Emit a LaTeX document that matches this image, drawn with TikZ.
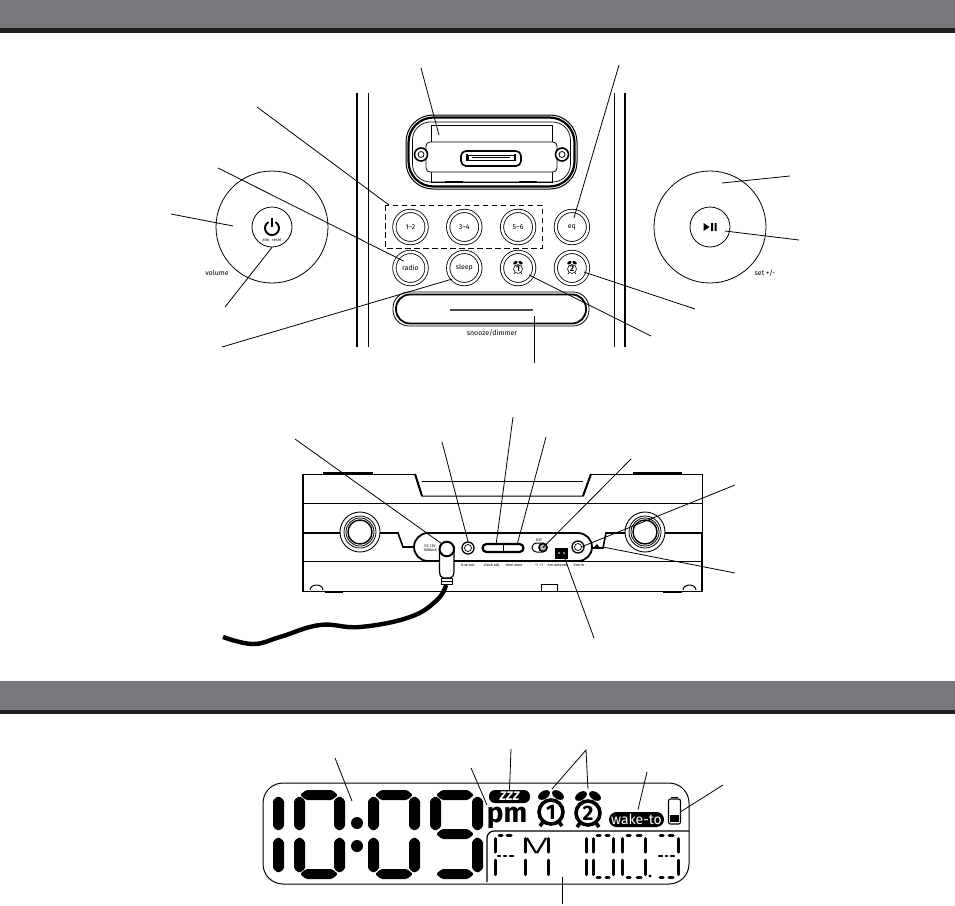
\documentclass[tikz,border=0pt]{standalone}
\usepackage{fontspec}
\setmainfont{Fira Sans}
\usetikzlibrary{positioning}
\definecolor{barfill}{HTML}{77787B}
\definecolor{bardark}{HTML}{231F20}
\tikzstyle{btn} = [circle, draw=black, line width=0.8pt, double, double distance=2.5pt, minimum size=32.2pt, inner sep=0pt, font=\fontsize{7}{7}\selectfont]
\tikzstyle{dial} = [circle, draw=black, line width=0.8pt, minimum size=112pt, inner sep=0pt]
\tikzstyle{hub} = [circle, draw=black, line width=0.8pt, minimum size=40pt, inner sep=0pt]
\tikzstyle{caption} = [inner sep=0pt, font=\fontsize{7}{7}\selectfont]
\tikzstyle{tinytext} = [inner sep=0pt, font=\fontsize{3.8}{4}\selectfont]
\tikzstyle{leader} = [line width=0.8pt]
\tikzstyle{body} = [line width=1pt]
\tikzstyle{jack} = [circle, draw=black, line width=1.3pt, minimum size=12pt, inner sep=0pt]
\tikzstyle{pill} = [fill=black, text=white, rounded corners=6pt, inner sep=0pt]
\tikzstyle{seg} = [line width=3pt, line cap=round]
% Segments of the clock digits
\newcommand{\bigv}[3]{\fill[rounded corners=1.5pt] (#1+5.5,#2) -- (#1+11,#2+4) -- (#1+11,#3-4) -- (#1+5.5,#3) -- (#1,#3-4) -- (#1,#2+4) -- cycle;}
\newcommand{\bigh}[3]{\fill[rounded corners=1.5pt] (#1,#3) -- (#1+6,#3-5) -- (#2-6,#3-5) -- (#2,#3) -- (#2-6,#3+5) -- (#1+6,#3+5) -- cycle;}
% Alarm bell with its number
\newcommand{\alarmicon}[6]{
    \begin{scope}[shift={(#1,#2)},scale=#3]
        \fill[rotate around={32:(-7,-17)}] (-7,-17) ellipse [x radius=6.5, y radius=4];
        \fill[rotate around={-32:(7,-17)}] (7,-17) ellipse [x radius=6.5, y radius=4];
        \draw[line width=#4] (-8,10) -- (-11,14) (8,10) -- (11,14);
        \draw[line width=#4, fill=white] (0,0) circle (12);
        \node[inner sep=0pt, font=\fontsize{#5}{#5}\bfseries\selectfont] at (0,0) {#6};
    \end{scope}}
\begin{document}
\begin{tikzpicture}[x=1pt, y=-1pt]
    \useasboundingbox (0,0) rectangle (955,905);

    % Draw Header Bars
    \fill[barfill] (0,0) rectangle (955,28);
    \fill[bardark] (0,28) rectangle (955,33);
    \fill[barfill] (0,681) rectangle (955,710);
    \fill[bardark] (0,710) rectangle (955,714);

    % Draw Cabinet Lines
    \draw[line width=1.4pt] (357,93) -- (357,347);
    \draw[leader] (368,93) -- (368,347);
    \draw[leader] (614,93) -- (614,347);
    \draw[line width=1.8pt] (625,93) -- (625,347);

    % Draw Dock
    \node(dock) [rectangle, draw=black, line width=1pt, rounded corners=27pt, minimum width=171pt, minimum height=74pt] at (491.5,152) {};
    \node(dockrim) [rectangle, draw=black, line width=2.2pt, rounded corners=25pt, minimum width=166pt, minimum height=69pt] at (491.5,152) {};
    \node(dockin) [rectangle, draw=black, line width=0.7pt, rounded corners=18pt, minimum width=158pt, minimum height=60pt] at (491.5,152) {};
    \draw[leader] (431,125) rectangle (552,182);
    \node(tray) [rectangle, draw=black, fill=white, line width=0.8pt, rounded corners=4pt, minimum width=131pt, minimum height=30pt] at (491.5,157) {};
    \draw[line width=2pt] (445,181.5) -- (463,181.5) (519,181.5) -- (537,181.5);
    \node(plug) [rectangle, draw=black, line width=1.6pt, rounded corners=5pt, minimum width=60pt, minimum height=15pt] at (491,158.5) {};
    \draw[line width=0.6pt] (468,155) rectangle (515,160) (472,157) -- (510,157);
    \draw[line width=1.4pt] (467,154) -- (467,161) (515,154) -- (515,161);
    \node(screwl) [circle, draw=black, fill=white, line width=1.6pt, minimum size=13pt, inner sep=0pt] at (421,154.5) {};
    \node(screwr) [circle, draw=black, fill=white, line width=1.6pt, minimum size=13pt, inner sep=0pt] at (562,154.5) {};
    \draw[line width=0.8pt] (421,154.5) circle (3) (562,154.5) circle (3);

    % Draw Buttons
    \node(preone) [btn] at (410.5,227) {1–2};
    \node(pretwo) [btn, right of=preone, node distance=53.8pt] {3–4};
    \node(prethree) [btn, right of=pretwo, node distance=53.8pt] {5–6};
    \node(eq) [btn, right of=prethree, node distance=53.8pt] {eq};
    \node(radio) [btn, below of=preone, node distance=41pt] {radio};
    \node(sleep) [btn, right of=radio, node distance=53.8pt] {sleep};
    \node(alarmone) [btn, right of=sleep, node distance=53.8pt] {};
    \node(alarmtwo) [btn, right of=alarmone, node distance=53.8pt] {};
    \alarmicon{518}{269}{0.37}{0.6pt}{8.5}{1}
    \alarmicon{572}{269}{0.37}{0.6pt}{8.5}{2}
    \draw[line width=0.8pt, dashed, dash pattern=on 5.5pt off 3.5pt] (385,205) rectangle (542,248);

    % Draw Snooze Bar
    \node(snooze) [rectangle, draw=black, line width=0.8pt, rounded corners=16pt, minimum width=196pt, minimum height=34pt] at (491,309) {};
    \node(snoozein) [rectangle, draw=black, line width=1.8pt, rounded corners=14pt, minimum width=190pt, minimum height=29pt] at (491,309) {};
    \draw[line width=1.2pt, black!70] (450,310) -- (533,310);
    \node(snoozetext) [caption] at (492,333) {snooze/dimmer};

    % Draw Dials
    \node(voldial) [dial] at (272,227) {};
    \node(powerhub) [hub] at (272,227) {};
    \draw[line width=1.9pt] (268.5,222) arc[start angle=120, end angle=420, radius=7pt];
    \draw[line width=1.9pt] (272,218) -- (272,227);
    \node(almreset) [tinytext, font=\fontsize{4.2}{4}\selectfont] at (272,239.5) {alm. reset};
    \node(volumetext) [caption] at (217,273) {volume};
    \node(setdial) [dial] at (710,227) {};
    \node(playhub) [hub] at (710,227) {};
    \fill (703.5,223) -- (703.5,231) -- (709.5,227) -- cycle;
    \fill (711,223) rectangle (713,231) (714.5,223) rectangle (716.5,231);
    \node(settext) [caption] at (765,273) {set +/-};

    % Draw Front Leaders
    \coordinate (dockfree) at (421,68);
    \coordinate (docktip) at (439,135);
    \draw[leader] (dockfree) -- (docktip);
    \coordinate (eqfree) at (619,65);
    \draw[leader] (eqfree) -- ([shift={(2,-9)}]eq.center);
    \coordinate (prefree) at (257,107);
    \coordinate (pretip) at (389,205);
    \draw[leader] (prefree) -- (pretip);
    \coordinate (radiofree) at (218,168);
    \draw[leader] (radiofree) -- ([shift={(-7,-7)}]radio.center);
    \coordinate (volfree) at (171,214);
    \coordinate (voltip) at (233,226);
    \draw[leader] (volfree) -- (voltip);
    \coordinate (powerfree) at (225,307);
    \draw[leader] (powerfree) -- (powerhub.south);
    \coordinate (sleepfree) at (222,347);
    \draw[leader] (sleepfree) -- ([shift={(-12,11)}]sleep.center);
    \coordinate (snoozefree) at (534,363);
    \coordinate (snoozetip) at (534,316);
    \draw[leader] (snoozefree) -- (snoozetip);
    \coordinate (alarmonefree) at (651,336);
    \draw[leader] (alarmonefree) -- ([shift={(11,7)}]alarmone.center);
    \coordinate (alarmtwofree) at (695,309);
    \draw[leader] (alarmtwofree) -- ([shift={(12,4)}]alarmtwo.center);
    \coordinate (setfree) at (790,176);
    \coordinate (settip) at (722,183);
    \draw[leader] (setfree) -- (settip);
    \coordinate (playfree) at (799,240);
    \coordinate (playtip) at (725,231);
    \draw[leader] (playfree) -- (playtip);

    % Draw Rear Unit
    \draw[body] (415,474) -- (303,474) (591,474) -- (702,474) -- (702,533);
    \draw[line width=3pt] (323,473.5) -- (373,473.5) (633,473.5) -- (682,473.5);
    \draw[body] (415,474) -- (422,496) -- (583,496) -- (591,474);
    \draw[body] (422,481) -- (583,481);
    \draw[line width=2pt] (415,474) -- (422,496) (583,496) -- (591,474);
    \draw[body] (303,503) -- (702,503);
    \draw[body] (303,561) -- (702,561);
    \draw[body] (303,591) -- (702,591);
    \draw[line width=2.6pt] (303,474) -- (303,592);
    \draw[line width=2.6pt] (702,533) -- (702,592);
    \draw[line width=1.6pt] (303,533) -- (398,533) -- (403,547) -- (415,547);
    \draw[line width=1.6pt] (702,533) -- (606,533) -- (603,548) -- (592,548);
    \draw[line width=1.8pt, fill=white, rounded corners=14pt] (414,533) rectangle (592,561);
    \draw[body, fill=white] (310,590) arc[start angle=180, end angle=0, x radius=6.5pt, y radius=5pt];
    \draw[body, fill=white] (683,590) arc[start angle=180, end angle=0, x radius=6.5pt, y radius=5pt];
    \draw[line width=1.6pt] (325,592) -- (343,592) (663,592) -- (682,592);
    \draw[body] (541,591) -- (541,584) -- (557,584) -- (557,591);
    \foreach \kx in {360,645}{
        \draw[line width=0.9pt, fill=white] (\kx,532) circle (20);
        \draw[line width=0.8pt] (\kx,532) circle (16);
        \draw[line width=0.8pt] (\kx,532) circle (14);
        \draw[line width=1.4pt] (\kx,532) circle (12);
    }

    % Draw Rear Controls
    \node(dctext) [tinytext, align=center] at (430,548.5) {DC 12V\\1000mA};
    \node(lineout) [jack] at (468,548) {};
    \draw[line width=0.7pt] (468,548) circle (3.5);
    \node(lineouttext) [tinytext] at (468,565) {line out};
    \node(slider) [rectangle, draw=black, line width=2.2pt, rounded corners=4pt, minimum width=41pt, minimum height=8pt, inner sep=0pt] at (503,548) {};
    \draw[leader] (503,544) -- (503,552);
    \node(clocktext) [tinytext] at (492,565) {clock adj.};
    \node(zonetext) [tinytext] at (514,565) {time zone};
    \node(dst) [rectangle, draw=black, line width=1pt, rounded corners=4.5pt, minimum width=15pt, minimum height=9pt, inner sep=0pt] at (539.5,547.5) {};
    \node(dstknob) [circle, draw=black, fill=black!30, line width=1.6pt, minimum size=8pt, inner sep=0pt] at (543,547.5) {};
    \node(dsttext) [tinytext] at (539,540) {DST};
    \node(dstrange) [tinytext] at (539,565) {-1\hspace{2pt}+1};
    \node(antenna) [rectangle, fill=black, minimum width=13pt, minimum height=11pt, inner sep=0pt] at (561.5,553.5) {};
    \fill[white] (559,553) circle (0.9) (564,553) circle (0.9);
    \node(antennatext) [tinytext] at (558,565) {am antenna};
    \node(linein) [jack] at (578,547) {};
    \draw[line width=0.7pt] (578,547) circle (3.5);
    \node(lineintext) [tinytext] at (579,565) {line in};
    \fill (593,548) -- (597,544) -- (600,548) -- cycle;

    % Draw Cable
    \draw[line width=4.4pt] plot [smooth, tension=0.7] coordinates {(223,637) (253,644) (280,637) (320,625) (360,627) (410,617) (437,600) (446,585)};
    \draw[line width=1.2pt, fill=white, rounded corners=2pt] (439.5,549) -- (439.5,574) -- (441.5,578) -- (452,578) -- (454,574) -- (454,549);
    \draw[line width=1pt, fill=white] (441.5,578) rectangle (452,584) (441.5,581) -- (452,581);
    \node(dcsocket) [circle, draw=black, fill=white, line width=2pt, minimum size=14.5pt, inner sep=0pt] at (446.8,549) {};

    % Draw Rear Leaders
    \coordinate (dcfree) at (295,439);
    \draw[leader] (dcfree) -- (dcsocket.north west);
    \coordinate (lineoutfree) at (442,442);
    \draw[leader] (lineoutfree) -- (lineout.north);
    \coordinate (clockfree) at (513,417);
    \coordinate (clocktip) at (496,545);
    \draw[leader] (clockfree) -- (clocktip);
    \coordinate (zonefree) at (546,437);
    \coordinate (zonetip) at (517,545);
    \draw[leader] (zonefree) -- (zonetip);
    \coordinate (dstfree) at (631,459);
    \draw[leader] (dstfree) -- (dstknob.center);
    \coordinate (lineinfree) at (735,485);
    \draw[leader] (lineinfree) -- ([shift={(3,0)}]linein.center);
    \coordinate (ledfree) at (735,573);
    \coordinate (ledtip) at (603,547);
    \draw[leader] (ledfree) -- (ledtip);
    \coordinate (antennafree) at (594,638);
    \draw[leader] (antennafree) -- ([shift={(3,4)}]antenna.center);

    % Draw Display
    \node(lcd) [rectangle, draw=black, line width=1pt, rounded corners=20pt, minimum width=426pt, minimum height=101pt] at (476,833.5) {};
    \draw[line width=1.2pt, rounded corners=7pt] (487,882) -- (487,831) -- (689,831);
    \foreach \x in {273,294,334,368,409,472}{
        \bigv{\x}{796}{831}
        \bigv{\x}{837}{873}
    }
    \bigv{430}{796}{831}
    \foreach \x/\xx in {300/338,375/413,436/474}{
        \bigh{\x}{\xx}{795}
        \bigh{\x}{\xx}{874}
    }
    \bigh{436}{474}{834}
    \fill (357,823) circle (6) (357,846) circle (6);

    % Draw Radio Segments
    \foreach \x in {495,525,548,586,593,613,622,645,678}{
        \draw[seg] (\x,838.5) -- (\x,852);
        \draw[seg] (\x,860) -- (\x,874.5);
    }
    \foreach \a/\b in {499/502,507/511,597/600,606/609,627/630,637/641,660/663,669/673}{
        \draw[seg] (\a,835.5) -- (\b,835.5);
    }
    \foreach \a/\b in {597/600,606/609,627/630,637/641,660/663,669/673}{
        \draw[seg] (\a,877) -- (\b,877);
    }
    \foreach \a/\b in {498/500,504/506,510/513,659/662,666/667,671/674}{
        \draw[seg, line width=2.6pt] (\a,856) -- (\b,856);
    }
    \draw[line width=2.2pt] (527,838) -- (536,853) (546,838) -- (537,853);
    \fill (650,876) circle (1.7);

    % Draw Indicators
    \node(zzz) [pill, minimum width=41pt, minimum height=13pt, font=\fontsize{12.5}{12.5}\bfseries\itshape\selectfont] at (509.5,796.5) {ZZZ};
    \node(pm) [inner sep=0pt, font=\fontsize{28}{28}\fontseries{sb}\selectfont] at (507,817.5) {pm};
    \alarmicon{551}{812}{1}{3.6pt}{21}{1}
    \alarmicon{588}{813}{1}{3.6pt}{21}{2}
    \node(waketo) [pill, minimum width=55pt, minimum height=15pt, rounded corners=7.5pt, font=\fontsize{14}{14}\selectfont] at (636.5,819.5) {wake-to};
    \node(battery) [rectangle, draw=black, line width=1.1pt, rounded corners=2pt, minimum width=12pt, minimum height=25pt, inner sep=0pt] at (674.5,811.5) {};
    \draw[line width=1.4pt] (671,797.5) -- (678,797.5);
    \fill (670,815) rectangle (679,822);

    % Draw Display Leaders
    \coordinate (timefree) at (335,758);
    \coordinate (timetip) at (352,801);
    \draw[leader] (timefree) -- (timetip);
    \coordinate (pmfree) at (471,768);
    \coordinate (pmtip) at (487,805);
    \draw[leader] (pmfree) -- (pmtip);
    \coordinate (zzzfree) at (511,749);
    \draw[leader] (zzzfree) -- (zzz.north);
    \coordinate (alarmsfree) at (586,750);
    \coordinate (alarmonetip) at (552,789);
    \coordinate (alarmtwotip) at (588,789);
    \draw[leader] (alarmonetip) -- (alarmsfree) -- (alarmtwotip);
    \coordinate (wakefree) at (647,772);
    \draw[leader] (wakefree) -- ([shift={(1.5,-10)}]waketo.center);
    \coordinate (batteryfree) at (723,785);
    \draw[leader] (batteryfree) -- (battery.east);
    \coordinate (fmfree) at (562,904);
    \coordinate (fmtip) at (562,877);
    \draw[leader] (fmfree) -- (fmtip);
\end{tikzpicture}
\end{document}
